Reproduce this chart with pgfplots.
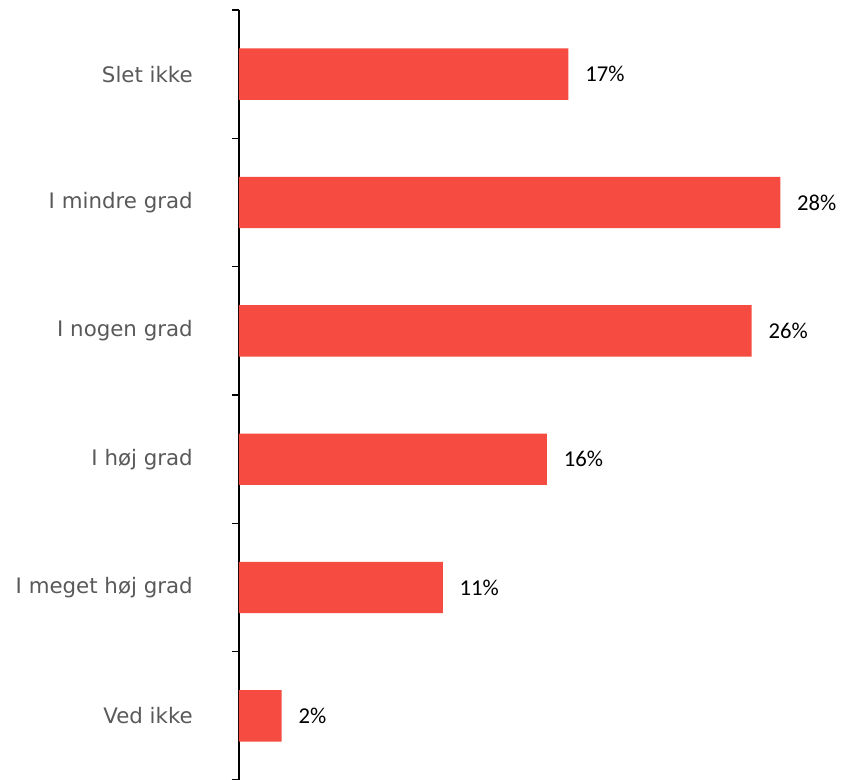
\documentclass[border=0pt]{standalone}
\usepackage{fontspec}
\setmainfont{DejaVu Sans}
\newfontfamily\valfont{Carlito}
\usepackage{pgfplots}
\pgfplotsset{compat=1.18}
\definecolor{barred}{HTML}{F54B41}
\definecolor{labgray}{HTML}{595959}
\begin{document}
\begin{tikzpicture}
\path[use as bounding box] (-179.25pt,0pt) rectangle (451.5pt,585pt);
\begin{axis}[
  at={(0pt,0pt)}, anchor=south west,
  scale only axis, width=451.5pt, height=577.5pt,
  xmin=0, xmax=31.14, ymin=0.5, ymax=6.5, y dir=reverse,
  hide x axis, axis y line*=left,
  axis line style={black, line width=0.9pt},
  ytick={0.5,1.5,2.5,3.5,4.5,5.5,6.5}, yticklabels={},
  tick align=outside, major tick length=5.25pt,
  tick style={black, line width=0.9pt},
  extra y ticks={1,2,3,4,5,6},
  extra y tick labels={Slet ikke,I mindre grad,I nogen grad,I høj grad,I meget høj grad,Ved ikke},
  extra y tick style={major tick length=0pt, tick style={draw=none}},
  yticklabel style={inner sep=0pt, xshift=-34.5pt, anchor=east, text=labgray, font=\fontsize{16}{19}\selectfont},
  xbar, bar width=0.4, clip=false,
  point meta=explicit symbolic,
  nodes near coords,
  nodes near coords style={anchor=west, inner sep=0pt, xshift=12.5pt, text=black, font=\valfont\fontsize{17}{20}\selectfont},
]
\addplot[fill=barred, draw=none] coordinates {
  (17.04,1) [17\%]
  (28.00,2) [28\%]
  (26.52,3) [26\%]
  (15.93,4) [16\%]
  (10.54,5) [11\%]
  (2.21,6) [2\%]
};
\end{axis}
\end{tikzpicture}
\end{document}
